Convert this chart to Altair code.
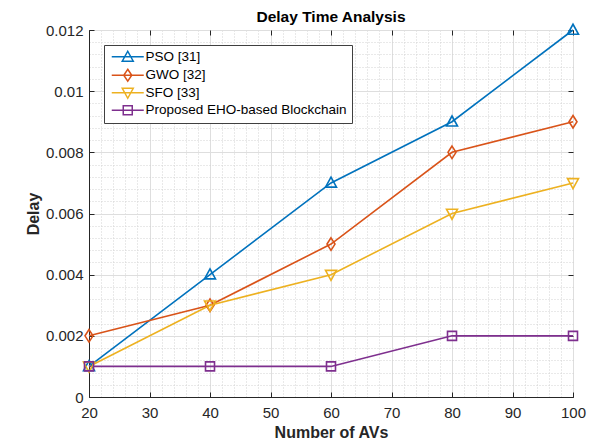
import altair as alt
import pandas as pd

# ---- data ----
num_avs = [20, 40, 60, 80, 100]
series_names = ["PSO [31]", "GWO [32]", "SFO [33]", "Proposed EHO-based Blockchain"]
marker_keys = ["tri-up", "diamond", "tri-down", "square"]
pso = [0.001, 0.004, 0.007, 0.009, 0.012]
gwo = [0.002, 0.003, 0.005, 0.008, 0.009]
sfo = [0.001, 0.003, 0.004, 0.006, 0.007]
eho = [0.001, 0.001, 0.001, 0.002, 0.002]

x_ticks = [20, 30, 40, 50, 60, 70, 80, 90, 100]
y_ticks = [0, 0.002, 0.004, 0.006, 0.008, 0.01, 0.012]
x_minor = [x for x in range(22, 100, 2) if x % 10 != 0]
y_minor = [round(i * 0.0004, 4) for i in range(31) if i % 5 != 0]

colors = ["#0072BD", "#D95319", "#EDB120", "#7E2F8E"]

rows = []
for name, mk, vals in zip(series_names, marker_keys, [pso, gwo, sfo, eho]):
    for x, v in zip(num_avs, vals):
        rows.append({"AVs": x, "Delay": v, "Series": name, "Marker": mk})
df = pd.DataFrame(rows)

W, H = 484, 367

# marker shapes for the plot (custom paths, scaled by size)
plot_shapes = [
    "M0,-1.15L1.1,0.85L-1.1,0.85Z",
    "M0,-1.25L0.8,0L0,1.25L-0.8,0Z",
    "M0,1.15L1.1,-0.85L-1.1,-0.85Z",
    "M-0.9,-0.9H0.9V0.9H-0.9Z",
]
# legend symbols: line with marker in the middle
legend_shapes = [
    "M-0.8,0H5.6M2.4,-1.1L3.5,0.9L1.3,0.9Z",
    "M-0.8,0H5.6M2.4,-1.2L3.2,0L2.4,1.2L1.6,0Z",
    "M-0.8,0H5.6M2.4,1.1L3.5,-0.9L1.3,-0.9Z",
    "M-0.8,0H5.6M1.5,-0.9H3.3V0.9H1.5Z",
]
shape_expr = (
    f"datum.value === '{series_names[0]}' ? '{legend_shapes[0]}' : "
    f"datum.value === '{series_names[1]}' ? '{legend_shapes[1]}' : "
    f"datum.value === '{series_names[2]}' ? '{legend_shapes[2]}' : '{legend_shapes[3]}'"
)

FONT = "Liberation Sans"
TXT = "#262626"

legend = alt.Legend(
    title=None,
    orient="none",
    legendX=15,
    legendY=15,
    padding=5,
    strokeColor="#404040",
    fillColor="white",
    labelFont=FONT,
    labelFontSize=13.5,
    labelColor="#000000",
    labelOffset=23,
    labelLimit=400,
    symbolSize=100,
    symbolStrokeWidth=1.5,
    symbolFillColor="transparent",
    symbolType={"expr": shape_expr},
    rowPadding=0.5,
)

color_scale = alt.Scale(domain=series_names, range=colors)
x_scale = alt.Scale(domain=[20, 100], nice=False, zero=False)
y_scale = alt.Scale(domain=[0, 0.012], nice=False)

base = alt.Chart(df)

minor_x = alt.Axis(orient="top", values=x_minor, grid=True, gridDash=[1, 2], gridColor="#d2d2d2",
                   labels=False, ticks=False, domain=False, title=None)
minor_y = alt.Axis(orient="right", values=y_minor, grid=True, gridDash=[1, 2], gridColor="#d2d2d2",
                   labels=False, ticks=False, domain=False, title=None)

lines = base.mark_line(strokeWidth=1.6).encode(
    x=alt.X("AVs:Q", scale=x_scale, axis=minor_x),
    y=alt.Y("Delay:Q", scale=y_scale, axis=minor_y),
    color=alt.Color("Series:N", scale=color_scale, legend=legend),
    order=alt.Order("AVs:Q"),
)

major_x = alt.Axis(orient="bottom", values=x_ticks, grid=True, gridColor="#dedede", gridWidth=1,
                   ticks=False, domainColor=TXT, domainWidth=1, labelFlush=False,
                   labelFont=FONT, labelFontSize=15, labelColor=TXT, labelPadding=8,
                   title="Number of AVs", titleFont=FONT, titleFontSize=16, titleFontWeight="bold",
                   titleColor=TXT, titlePadding=4)
major_y = alt.Axis(orient="left", values=y_ticks, grid=True, gridColor="#dedede", gridWidth=1,
                   ticks=False, domainColor=TXT, domainWidth=1, format="~f", labelFlush=False,
                   labelFont=FONT, labelFontSize=15, labelColor=TXT, labelPadding=6,
                   title="Delay", titleFont=FONT, titleFontSize=16, titleFontWeight="bold",
                   titleColor=TXT, titlePadding=4)

points = base.mark_point(filled=False, strokeWidth=1.6, size=100, opacity=1).encode(
    x=alt.X("AVs:Q", scale=x_scale, axis=major_x),
    y=alt.Y("Delay:Q", scale=y_scale, axis=major_y),
    color=alt.Color("Series:N", scale=color_scale, legend=None),
    shape=alt.Shape("Marker:N", scale=alt.Scale(domain=marker_keys, range=plot_shapes), legend=None),
)


def tick_axis(orient, values, offset):
    return alt.Axis(orient=orient, values=values, offset=offset, grid=False, labels=False,
                    domain=False, ticks=True, tickSize=5, tickWidth=1, tickColor=TXT, title=None)


# inward tick marks (MATLAB style) on bottom/left edges
ticks_a = base.mark_point(opacity=0, size=1).encode(
    x=alt.X("AVs:Q", scale=x_scale, axis=tick_axis("top", x_ticks, -H)),
    y=alt.Y("Delay:Q", scale=y_scale, axis=tick_axis("right", y_ticks, -W)),
)
# inward tick marks on top/right edges
ticks_b = base.mark_point(opacity=0, size=1).encode(
    x=alt.X("AVs:Q", scale=x_scale, axis=tick_axis("bottom", x_ticks, -H)),
    y=alt.Y("Delay:Q", scale=y_scale, axis=tick_axis("left", y_ticks, -W)),
)

chart = alt.layer(lines, points, ticks_a, ticks_b).properties(
    width=W,
    height=H,
    padding={"left": 89, "top": 30, "right": 19, "bottom": 48},
    autosize=alt.AutoSizeParams(type="none"),
    title=alt.TitleParams("Delay Time Analysis", font=FONT, fontSize=15.5, fontWeight="bold",
                          color="#000000", anchor="middle", offset=5, dy=9),
    background="white",
).configure_view(stroke=TXT, strokeWidth=1)

chart.save("out.html", embed_options={"renderer": "svg", "actions": False})
